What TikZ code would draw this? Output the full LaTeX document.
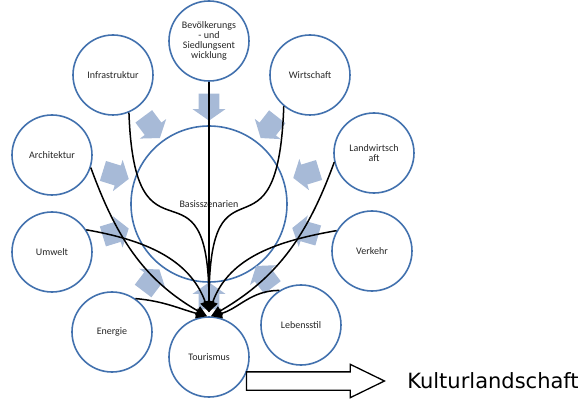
\documentclass[tikz,border=0pt]{standalone}
\usepackage{fontspec}
\setmainfont{Carlito}
\newfontfamily\verdana{DejaVu Sans}
\usetikzlibrary{arrows.meta}
\usetikzlibrary{positioning,shapes.arrows}
\definecolor{kreisblau}{RGB}{66,113,174}
\definecolor{pfeilblau}{RGB}{167,186,215}
\tikzset{
	node distance=2cm,
	every path/.style = {thick},
	kreis/.style = {circle, draw=kreisblau, line width=1.6pt, fill=white, minimum size=80pt, inner sep=0pt, align=center, text=black!85, font=\fontsize{10}{10}\selectfont},
	grosskreis/.style = {kreis, minimum size=156pt},
	blockpfeil/.style = {single arrow, fill=pfeilblau, draw=none, inner sep=0pt, inner ysep=10pt, minimum height=27pt, single arrow head extend=6pt, single arrow tip angle=110, sloped, allow upside down, midway},
	linie/.style = {black, line width=1.5pt, -{Triangle[length=11pt,width=10pt]}},
	grosspfeil/.style = {single arrow, draw=black, fill=white, line width=1.3pt, inner sep=0pt, inner ysep=8.5pt, minimum height=138pt, single arrow head extend=7.5pt, single arrow tip angle=52}
}

\begin{document}
\begin{tikzpicture}[on grid]
	\useasboundingbox (-209pt,-195pt) rectangle (373pt,204pt);
	% Kreise
	\node (basis) [grosskreis] {Basisszenarien};
	\node (bev) [kreis, above=163pt of basis] {Bevölkerungs\\- und\\Siedlungsent\\wicklung};
	\node (infra) [kreis, above left=129pt and 96pt of basis] {Infrastruktur};
	\node (wirt) [kreis, above right=129pt and 101pt of basis] {Wirtschaft};
	\node (arch) [kreis, above left=49pt and 157pt of basis] {Architektur};
	\node (landw) [kreis, above right=51pt and 165pt of basis] {Landwirtsch\\aft};
	\node (umw) [kreis, below left=48pt and 157pt of basis] {Umwelt};
	\node (verk) [kreis, below right=47pt and 163pt of basis] {Verkehr};
	\node (ener) [kreis, below left=128pt and 97pt of basis] {Energie};
	\node (leben) [kreis, below right=121pt and 92pt of basis] {Lebensstil};
	\node (tour) [kreis, below=153pt of basis] {Tourismus};
	% blaue Pfeile zur Mitte
	\foreach \n in {bev,infra,wirt,arch,landw,umw,verk,ener,leben,tour}
		\path (\n) -- (basis) node [blockpfeil] {};
	% Verbindungen zum Tourismus
	\draw [linie] (bev) -- ([yshift=4pt]tour.north);
	\draw [linie] (infra.-67) to[out=-88, in=90, looseness=2] ([yshift=4pt]tour.north);
	\draw [linie] (wirt.230) to[out=-92, in=90, looseness=2] ([yshift=4pt]tour.north);
	\draw [linie] (arch.-18) to[out=-70, in=150] ([xshift=-2pt]tour.north);
	\draw [linie] (umw.33) to[out=-10, in=110] ([yshift=4pt]tour.north);
	\draw [linie] (ener.55) to[out=-5, in=165] ([xshift=-2pt]tour.north);
	\draw [linie] (landw.193) to[out=-110, in=30] ([xshift=2pt]tour.north);
	\draw [linie] (verk.150) to[out=190, in=70] ([yshift=4pt]tour.north);
	\draw [linie] (leben.122) to[out=180, in=15] ([xshift=2pt]tour.north);
	% Ergebnis
	\node (pfeil) [grosspfeil, anchor=west] at ([xshift=-4pt,yshift=-24pt]tour.east) {};
	\node (kultur) [anchor=west, inner sep=0pt, font=\verdana\fontsize{21}{22}\selectfont] at ([xshift=21pt]pfeil.east) {Kulturlandschaft};
\end{tikzpicture}
\end{document}
